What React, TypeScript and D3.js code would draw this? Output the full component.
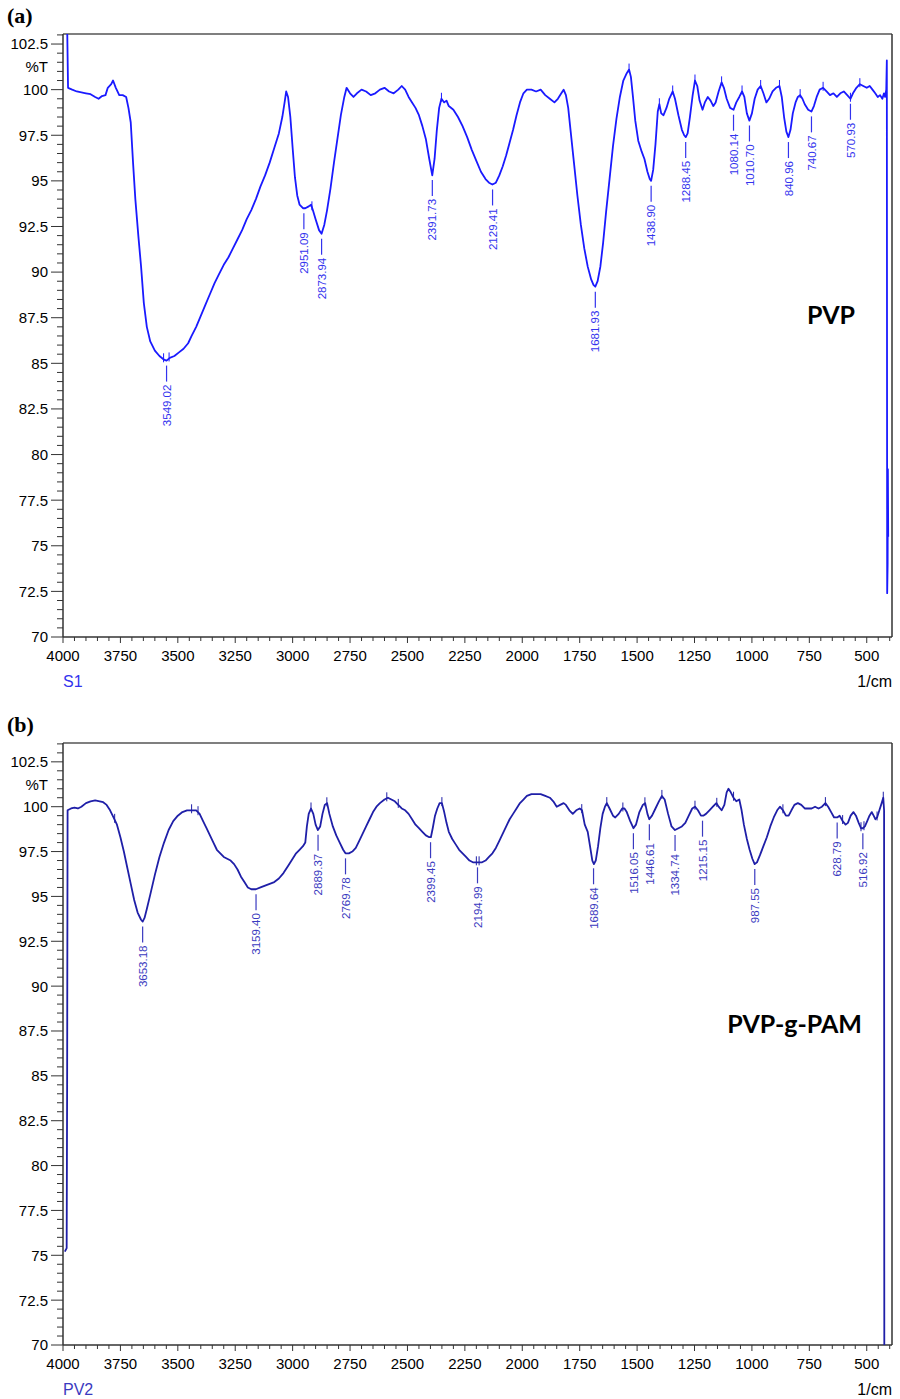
import * as d3 from 'd3';

// FTIR spectra, [wavenumber 1/cm, %T]
const pvpSpectrum: [number, number][] = [
  [3982, 103.6], [3978, 100.1], [3960, 100.0], [3940, 99.9], [3920, 99.85], [3900, 99.8], [3880, 99.75],
  [3860, 99.6], [3845, 99.5], [3830, 99.65], [3815, 99.7], [3805, 100.1], [3790, 100.3], [3782, 100.5],
  [3770, 100.1], [3755, 99.7], [3740, 99.7], [3725, 99.6], [3715, 99.0], [3705, 98.2], [3695, 96.0],
  [3685, 94.0], [3672, 92.0], [3660, 90.3], [3648, 88.3], [3635, 87.0], [3620, 86.2], [3600, 85.7],
  [3580, 85.4], [3560, 85.2], [3549, 85.15], [3535, 85.3], [3515, 85.4], [3495, 85.6], [3475, 85.8],
  [3455, 86.1], [3440, 86.5], [3420, 87.0], [3400, 87.6], [3380, 88.2], [3360, 88.8], [3340, 89.4],
  [3320, 89.9], [3300, 90.4], [3280, 90.8], [3260, 91.3], [3240, 91.8], [3220, 92.3], [3200, 92.9],
  [3180, 93.4], [3160, 94.0], [3140, 94.7], [3120, 95.3], [3100, 96.0], [3080, 96.8], [3060, 97.6],
  [3045, 98.5], [3035, 99.3], [3028, 99.9], [3020, 99.6], [3010, 98.5], [3000, 96.8], [2990, 95.2],
  [2980, 94.2], [2970, 93.7], [2955, 93.5], [2945, 93.5], [2930, 93.6], [2920, 93.7], [2912, 93.4],
  [2900, 92.9], [2885, 92.3], [2874, 92.1], [2862, 92.6], [2850, 93.4], [2835, 94.6], [2820, 96.0],
  [2805, 97.3], [2790, 98.6], [2775, 99.6], [2765, 100.1], [2750, 99.8], [2735, 99.6], [2720, 99.8],
  [2700, 100.0], [2680, 99.9], [2660, 99.7], [2640, 99.8], [2620, 100.0], [2600, 100.1], [2580, 99.9],
  [2560, 99.8], [2540, 100.0], [2525, 100.2], [2510, 100.0], [2495, 99.6], [2480, 99.3], [2465, 99.0],
  [2450, 98.6], [2435, 98.0], [2420, 97.3], [2405, 96.2], [2392, 95.3], [2382, 96.2], [2372, 97.8],
  [2362, 99.0], [2352, 99.5], [2340, 99.3], [2330, 99.4], [2320, 99.1], [2300, 98.9], [2280, 98.5],
  [2260, 98.0], [2240, 97.4], [2220, 96.7], [2200, 96.1], [2180, 95.5], [2160, 95.1], [2145, 94.9],
  [2130, 94.8], [2115, 94.9], [2100, 95.3], [2085, 95.8], [2070, 96.4], [2055, 97.1], [2040, 97.8],
  [2025, 98.6], [2010, 99.3], [1995, 99.8], [1980, 100.0], [1960, 100.0], [1940, 99.9], [1920, 100.0],
  [1900, 99.7], [1880, 99.5], [1860, 99.3], [1845, 99.5], [1830, 99.8], [1820, 100.0], [1810, 99.7],
  [1800, 99.0], [1790, 97.8], [1775, 96.0], [1760, 94.2], [1745, 92.6], [1730, 91.3], [1715, 90.3],
  [1700, 89.6], [1690, 89.3], [1682, 89.2], [1672, 89.5], [1660, 90.3], [1648, 91.6], [1635, 93.3],
  [1620, 95.1], [1605, 96.9], [1590, 98.4], [1575, 99.6], [1560, 100.5], [1545, 100.9], [1535, 101.1],
  [1527, 100.7], [1518, 99.6], [1508, 98.3], [1495, 97.2], [1480, 96.6], [1468, 96.2], [1455, 95.5],
  [1445, 95.1], [1439, 95.0], [1430, 95.6], [1420, 97.0], [1410, 98.8], [1403, 99.2], [1395, 98.7],
  [1385, 98.6], [1372, 99.0], [1360, 99.5], [1345, 99.9], [1335, 99.5], [1320, 98.6], [1305, 97.8],
  [1295, 97.5], [1288, 97.4], [1280, 97.6], [1270, 98.5], [1258, 99.7], [1248, 100.5], [1238, 100.2],
  [1228, 99.4], [1215, 98.9], [1205, 99.3], [1192, 99.6], [1180, 99.4], [1168, 99.1], [1158, 99.3],
  [1145, 99.9], [1132, 100.4], [1122, 100.1], [1110, 99.5], [1095, 99.0], [1080, 98.9], [1068, 99.3],
  [1055, 99.6], [1043, 99.9], [1033, 99.6], [1022, 98.7], [1011, 98.3], [1000, 98.7], [988, 99.5],
  [975, 100.0], [962, 100.2], [950, 99.8], [937, 99.3], [925, 99.5], [910, 99.9], [895, 100.1],
  [880, 100.2], [870, 99.6], [860, 98.5], [850, 97.7], [841, 97.4], [832, 97.8], [822, 98.7],
  [810, 99.3], [800, 99.6], [790, 99.7], [780, 99.5], [770, 99.2], [755, 98.9], [741, 98.8],
  [730, 99.1], [718, 99.6], [705, 100.0], [690, 100.1], [675, 99.9], [660, 99.7], [645, 99.8],
  [630, 99.6], [615, 99.8], [600, 99.9], [585, 99.7], [571, 99.5], [560, 99.8], [545, 100.1],
  [530, 100.3], [515, 100.2], [500, 100.1], [487, 100.2], [475, 100.0], [463, 99.8], [452, 99.6],
  [442, 99.7], [432, 99.5], [425, 99.8], [420, 99.6], [415, 100.0], [412.5, 101.6], [411, 72.4],
  [409, 74.0], [408, 79.2], [406.5, 75.5],
];

const pamSpectrum: [number, number][] = [
  [3992, 75.2], [3984, 75.4], [3982, 84.5], [3980, 99.8], [3965, 99.9], [3950, 99.95], [3935, 99.9],
  [3920, 100.0], [3900, 100.2], [3880, 100.3], [3860, 100.35], [3840, 100.3], [3825, 100.25],
  [3810, 100.1], [3795, 99.8], [3780, 99.4], [3765, 99.0], [3750, 98.3], [3735, 97.5], [3720, 96.6],
  [3705, 95.7], [3690, 94.8], [3675, 94.1], [3660, 93.7], [3653, 93.6], [3645, 93.8], [3635, 94.3],
  [3620, 95.1], [3600, 96.2], [3580, 97.2], [3560, 98.0], [3540, 98.7], [3520, 99.2], [3500, 99.5],
  [3480, 99.7], [3460, 99.8], [3440, 99.8], [3420, 99.8], [3405, 99.6], [3390, 99.2], [3375, 98.8],
  [3360, 98.4], [3345, 98.0], [3330, 97.6], [3315, 97.4], [3300, 97.2], [3285, 97.1], [3270, 97.0],
  [3255, 96.8], [3240, 96.5], [3225, 96.1], [3210, 95.8], [3195, 95.5], [3180, 95.4], [3160, 95.4],
  [3140, 95.5], [3120, 95.6], [3100, 95.7], [3080, 95.8], [3060, 96.0], [3040, 96.3], [3020, 96.7],
  [3000, 97.1], [2985, 97.4], [2970, 97.6], [2955, 97.8], [2945, 98.0], [2938, 98.9], [2930, 99.6],
  [2920, 99.9], [2910, 99.6], [2900, 99.0], [2890, 98.7], [2880, 98.9], [2870, 99.6], [2860, 100.1],
  [2850, 100.2], [2840, 99.6], [2825, 98.9], [2810, 98.4], [2795, 98.0], [2780, 97.6], [2770, 97.4],
  [2755, 97.4], [2740, 97.5], [2725, 97.7], [2710, 98.1], [2695, 98.5], [2680, 98.9], [2665, 99.3],
  [2650, 99.7], [2635, 100.0], [2620, 100.2], [2600, 100.4], [2585, 100.5], [2570, 100.4],
  [2555, 100.3], [2540, 100.1], [2525, 99.9], [2510, 99.8], [2495, 99.6], [2480, 99.3], [2465, 99.0],
  [2450, 98.8], [2435, 98.6], [2420, 98.4], [2405, 98.3], [2398, 98.3], [2390, 98.8], [2380, 99.5],
  [2370, 99.9], [2360, 100.2], [2350, 100.2], [2340, 99.7], [2330, 99.1], [2320, 98.6], [2305, 98.2],
  [2290, 97.9], [2275, 97.6], [2260, 97.4], [2245, 97.2], [2230, 97.0], [2215, 96.9], [2195, 96.9],
  [2175, 96.9], [2160, 97.0], [2145, 97.2], [2130, 97.4], [2115, 97.7], [2100, 98.1], [2085, 98.5],
  [2070, 98.9], [2055, 99.3], [2040, 99.6], [2025, 99.9], [2010, 100.2], [1995, 100.4], [1980, 100.6],
  [1960, 100.7], [1940, 100.7], [1920, 100.7], [1900, 100.6], [1880, 100.5], [1865, 100.3],
  [1850, 100.0], [1835, 100.1], [1820, 100.2], [1810, 100.1], [1795, 99.8], [1780, 99.6], [1765, 99.8],
  [1750, 99.9], [1740, 99.8], [1728, 99.0], [1715, 98.6], [1705, 97.8], [1695, 97.0], [1688, 96.8],
  [1680, 97.0], [1670, 97.8], [1660, 98.8], [1650, 99.6], [1640, 100.0], [1632, 100.2], [1620, 99.9],
  [1605, 99.5], [1595, 99.4], [1580, 99.6], [1565, 99.9], [1555, 99.9], [1545, 99.7], [1530, 99.2],
  [1516, 98.8], [1505, 99.0], [1490, 99.7], [1475, 100.1], [1465, 100.2], [1455, 99.6], [1447, 99.3],
  [1435, 99.5], [1420, 99.9], [1405, 100.3], [1392, 100.6], [1380, 100.4], [1365, 99.6], [1350, 98.9],
  [1335, 98.7], [1320, 98.8], [1305, 98.9], [1290, 99.1], [1275, 99.5], [1260, 99.9], [1248, 100.0],
  [1235, 99.8], [1222, 99.5], [1212, 99.5], [1200, 99.6], [1185, 99.8], [1170, 100.0], [1155, 100.2],
  [1145, 100.0], [1132, 99.8], [1120, 100.1], [1110, 100.8], [1102, 101.0], [1092, 100.8],
  [1080, 100.5], [1068, 100.3], [1055, 100.4], [1045, 99.8], [1035, 99.0], [1022, 98.2], [1010, 97.6],
  [998, 97.1], [988, 96.8], [978, 96.9], [965, 97.3], [950, 97.8], [935, 98.3], [920, 98.9],
  [905, 99.4], [890, 99.8], [878, 100.0], [865, 99.8], [852, 99.5], [840, 99.5], [828, 99.8],
  [815, 100.1], [800, 100.2], [785, 100.1], [770, 99.9], [755, 99.9], [740, 99.9], [725, 100.0],
  [710, 99.9], [695, 100.0], [680, 100.2], [668, 100.0], [655, 99.7], [642, 99.4], [629, 99.4],
  [618, 99.5], [605, 99.2], [592, 99.0], [582, 99.1], [570, 99.5], [558, 99.7], [547, 99.5],
  [535, 99.1], [525, 98.8], [517, 98.8], [508, 98.9], [498, 99.2], [488, 99.5], [478, 99.7],
  [470, 99.5], [462, 99.3], [455, 99.4], [445, 99.8], [435, 100.2], [428, 100.5], [424.5, 99.8],
  [423.5, 69.0],
];

const pvpPeaks = [3549.02, 2951.09, 2873.94, 2391.73, 2129.41, 1681.93, 1438.90, 1288.45, 1080.14, 1010.70, 840.96, 740.67, 570.93];
const pamPeaks = [3653.18, 3159.40, 2889.37, 2769.78, 2399.45, 2194.99, 1689.64, 1516.05, 1446.61, 1334.74, 1215.15, 987.55, 628.79, 516.92];

// small peak-pick markers drawn on the traces
const pvpMarks = [3562, 3538, 2916, 2352, 1535, 1403, 1345, 1248, 1132, 1043, 962, 880, 790, 690, 571, 530];
const pamMarks = [3775, 3440, 3412, 2920, 2851, 2590, 2540, 2350, 2200, 2188, 1741, 1632, 1562, 1466, 1392, 1248, 1153, 1080, 865, 680, 605, 525, 512, 455, 428];

const xTickLabels = [4000, 3750, 3500, 3250, 3000, 2750, 2500, 2250, 2000, 1750, 1500, 1250, 1000, 750, 500];
const yTickLabels = [70, 72.5, 75, 77.5, 80, 82.5, 85, 87.5, 90, 92.5, 95, 97.5, 100, 102.5];

const LEFT = 63;
const RIGHT = 892;
const FONT = "'Liberation Sans', Arial, sans-serif";

function Panel({ top, bottom, yMax, data, peaks, marks, color, labelColor, tag, sample, name, nameX, nameY }) {
  const x = d3.scaleLinear().domain([4000, 390]).range([LEFT, RIGHT]);
  const y = d3.scaleLinear().domain([70, yMax]).range([bottom, top]);
  const tAt = d3.scaleLinear().domain(data.map(d => d[0])).range(data.map(d => d[1]));
  const path = d3.line<[number, number]>().x(d => x(d[0])).y(d => y(d[1]))(data);
  const minorX = d3.range(4000, 399, -50);
  const minorY = d3.range(70, yMax + 0.001, 0.5).map(v => +v.toFixed(1));
  const clipId = `clip-${tag}`;

  return (
    <g>
      <defs>
        <clipPath id={clipId}>
          <rect x={LEFT} y={top} width={RIGHT - LEFT} height={bottom - top} />
        </clipPath>
      </defs>
      <text x={7} y={top - 11} fontFamily="'Liberation Serif', 'Times New Roman', serif" fontWeight="bold" fontSize={22}>({tag})</text>

      {/* frame */}
      <line x1={LEFT} x2={RIGHT} y1={top} y2={top} stroke="#555" strokeWidth={1.5} />
      <line x1={RIGHT} x2={RIGHT} y1={top} y2={bottom} stroke="#333" strokeWidth={1.5} />
      <line x1={LEFT} x2={LEFT} y1={top} y2={bottom} stroke="#333" strokeWidth={1.5} />
      <line x1={LEFT} x2={RIGHT} y1={bottom} y2={bottom} stroke="#333" strokeWidth={1.5} />

      {minorX.map(v => (
        <line key={'mx' + v} x1={x(v)} x2={x(v)} y1={bottom} y2={bottom + (v % 250 === 0 ? 6 : 4)} stroke="#333" strokeWidth={1} />
      ))}
      {xTickLabels.map(v => (
        <text key={'xl' + v} x={x(v)} y={bottom + 24} textAnchor="middle" fontFamily={FONT} fontSize={15}>{v}</text>
      ))}
      {minorY.map(v => (
        <line key={'my' + v} x1={LEFT - (Math.abs(v / 2.5 - Math.round(v / 2.5)) < 0.01 ? 12 : 6)} x2={LEFT} y1={y(v)} y2={y(v)} stroke="#333" strokeWidth={1} />
      ))}
      {yTickLabels.map(v => (
        <text key={'yl' + v} x={48} y={y(v)} dy="0.36em" textAnchor="end" fontFamily={FONT} fontSize={15}>{v}</text>
      ))}
      <text x={48} y={y(101.25)} dy="0.36em" textAnchor="end" fontFamily={FONT} fontSize={15}>%T</text>

      <g clipPath={`url(#${clipId})`}>
        <path d={path} fill="none" stroke={color} strokeWidth={1.8} strokeLinejoin="round" />
        {marks.map(w => (
          <line key={'m' + w} x1={x(w)} x2={x(w)} y1={y(tAt(w)) - 6} y2={y(tAt(w)) + 3} stroke={color} strokeWidth={1} />
        ))}
      </g>

      {peaks.map(w => {
        const py = y(tAt(w));
        const px = x(w);
        return (
          <g key={'p' + w}>
            <line x1={px} x2={px} y1={py + 5} y2={py + 21} stroke={labelColor} strokeWidth={1.2} />
            <text transform={`translate(${px},${py + 24}) rotate(-90)`} dy="0.36em" textAnchor="end"
              fontFamily={FONT} fontSize={11.5} fill={labelColor}>{w.toFixed(2)}</text>
          </g>
        );
      })}

      <text x={nameX} y={nameY} fontFamily="Lato, 'Open Sans', sans-serif" fontWeight="bold" fontSize={25} textAnchor="end">{name}</text>
      <text x={LEFT} y={bottom + 50} fontFamily={FONT} fontSize={16} fill={labelColor}>{sample}</text>
      <text x={RIGHT} y={bottom + 50} textAnchor="end" fontFamily={FONT} fontSize={16}>1/cm</text>
    </g>
  );
}

export default function App() {
  return (
    <svg width={900} height={1399} style={{ position: 'absolute', left: 0, top: 0, background: '#fff' }}>
      <rect width={900} height={1399} fill="#fff" />
      <Panel top={34} bottom={637} yMax={103.05} data={pvpSpectrum} peaks={pvpPeaks} marks={pvpMarks}
        color="#1a1aff" labelColor="#3333ee" tag="a" sample="S1" name="PVP" nameX={855} nameY={324} />
      <Panel top={743} bottom={1345} yMax={103.55} data={pamSpectrum} peaks={pamPeaks} marks={pamMarks}
        color="#1f1fa8" labelColor="#3a3ac0" tag="b" sample="PV2" name="PVP-g-PAM" nameX={862} nameY={1033} />
    </svg>
  );
}
